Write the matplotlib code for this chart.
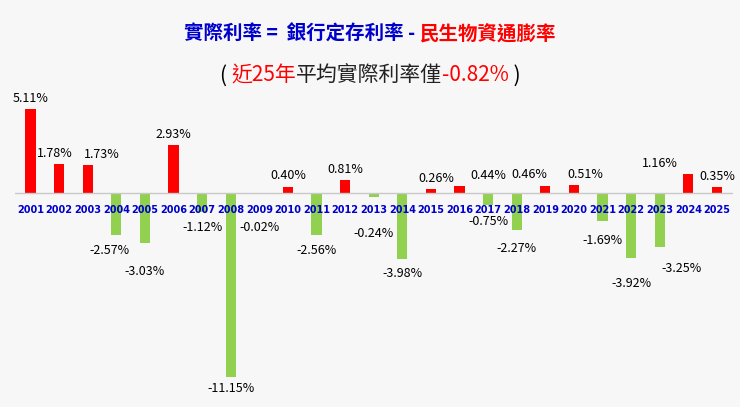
import matplotlib
matplotlib.use("Agg")
import matplotlib.pyplot as plt

plt.rcParams['font.family'] = ['Noto Sans CJK TC', 'DejaVu Sans']
years = [str(y) for y in range(2001, 2026)]
values = [5.11, 1.78, 1.73, -2.57, -3.03, 2.93, -1.12, -11.15, -0.02, 0.40, -2.56, 0.81, -0.24,
          -3.98, 0.26, 0.44, -0.75, -2.27, 0.46, 0.51, -1.69, -3.92, -3.25, 1.16, 0.35]

# label placement (layout only)
pos_dx = {'2002': -0.15, '2003': 0.5, '2015': 0.2, '2016': 1.0, '2019': -0.55, '2020': 0.4, '2024': -1.0}
neg_y = {'2004': -3.5, '2005': -4.75, '2007': -2.1, '2008': -11.9, '2009': -2.1, '2011': -3.5,
         '2013': -2.45, '2014': -4.9, '2017': -1.7, '2018': -3.35, '2021': -2.9, '2022': -5.5, '2023': -4.6}
neg_dx = {'2004': -0.25, '2023': 0.75}

bg = '#f7f7f7'
fig = plt.figure(figsize=(7.4, 4.07), dpi=100, facecolor=bg)
ax = fig.add_axes([0.02, 0.0, 0.97, 0.76], facecolor=bg)
x = list(range(len(years)))
colors = ['#ff0000' if v > 0 else '#92d050' for v in values]
ax.bar(x, values, width=0.36, color=colors)
ax.axhline(0, color='#c8c8c8', lw=1)
ax.set_xlim(-0.55, len(years) - 0.45)
ax.set_ylim(-13.0, 5.8)
ax.axis('off')
for i, (y, v) in enumerate(zip(years, values)):
    ax.text(i, -1.0, y, ha='center', va='center',
            color='#0000cc', fontsize=7, fontweight='bold', family='DejaVu Sans')
    if v > 0:
        ax.text(i + pos_dx.get(y, 0), v + 0.25, f'{v:.2f}%', ha='center', va='bottom', fontsize=9)
    else:
        ax.text(i + neg_dx.get(y, 0), neg_y[y], f'{v:.2f}%', ha='center', va='center', fontsize=9)

def runs(pieces, y, size, weight):
    r = fig.canvas.get_renderer()
    ts = []
    total = 0
    for s, c in pieces:
        t = fig.text(0, y, s, color=c, fontsize=size, fontweight=weight, va='center')
        w = t.get_window_extent(r).width
        ts.append((t, w)); total += w
    xpos = (fig.bbox.width - total) / 2
    for t, w in ts:
        t.set_x(xpos / fig.bbox.width); xpos += w

runs([('實際利率 =  銀行定存利率 - ', '#0000cc'), ('民生物資通膨率', '#ff0000')], 0.915, 14, 'bold')
runs([('( ', 'black'), ('近25年', '#ff0000'), ('平均實際利率僅', '#222222'), ('-0.82%', '#ff0000'), (' )', 'black')],
     0.815, 15, 'medium')
fig.savefig('out.png', dpi=100, facecolor=bg)
